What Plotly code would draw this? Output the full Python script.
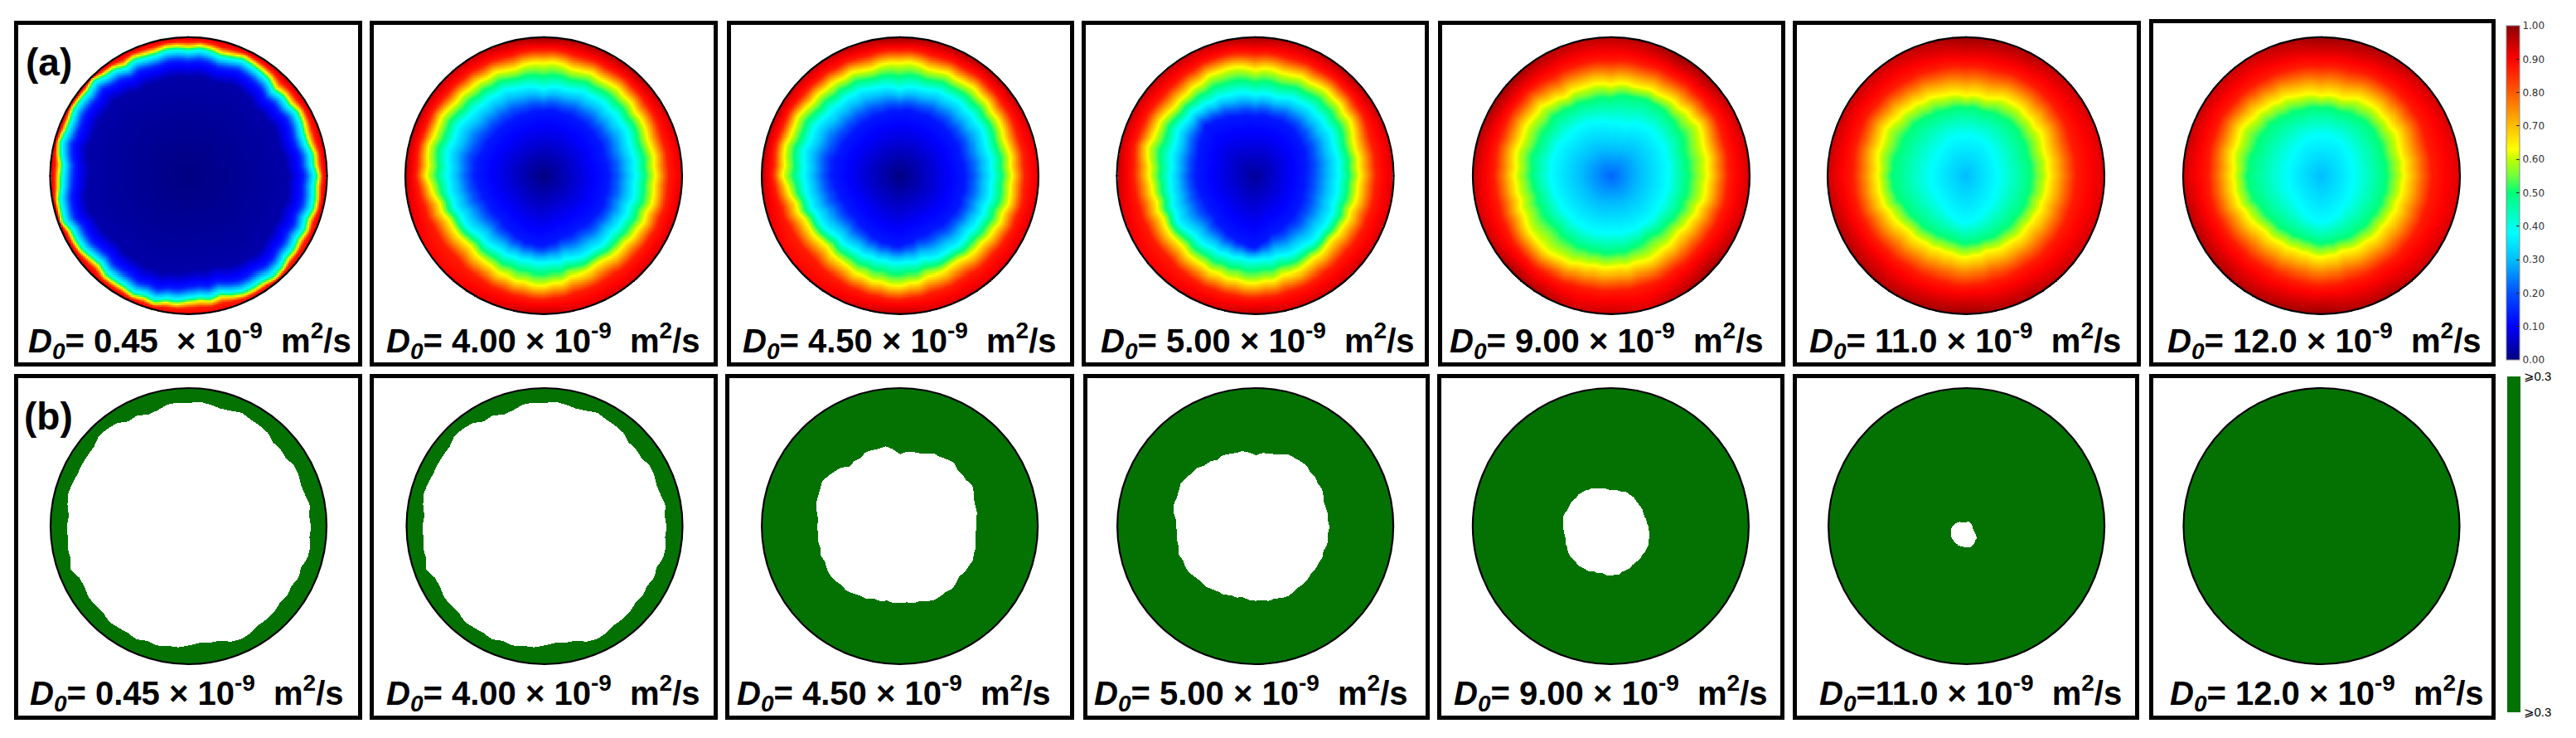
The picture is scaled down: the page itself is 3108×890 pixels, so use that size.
import numpy as np
import plotly.graph_objects as go

W, H = 3108, 890

# ---------- text ----------
LABELS_A = ["0.45\u00a0\u00a0×", "4.00 ×", "4.50 ×", "5.00 ×", "9.00 ×", "11.0 ×", "12.0 ×"]
LABELS_B = [" 0.45 ×", " 4.00 ×", " 4.50 ×", " 5.00 ×", " 9.00 ×", "11.0 ×", " 12.0 ×"]
TICK_VALUES = [0.0, 0.1, 0.2, 0.3, 0.4, 0.5, 0.6, 0.7, 0.8, 0.9, 1.0]
GREEN_TICKS = ["⩾0.3", "⩾0.3"]

# ---------- read-off contour radii, fraction of disc radius, every 15 deg from east, counter-clockwise ----------
A1_NAVY = [.715,.69,.695,.68,.72,.70,.715,.71,.71,.755,.745,.75,.71,.76,.73,.71,.72,.725,.686,.687,.73,.735,.71,.72]
A1_BLUE = [.825,.80,.805,.79,.83,.81,.825,.82,.82,.865,.855,.86,.82,.87,.84,.82,.83,.835,.796,.797,.84,.845,.82,.83]
A1_CYAN = [.905,.88,.885,.87,.91,.89,.905,.90,.90,.945,.935,.94,.90,.95,.92,.90,.91,.915,.876,.877,.92,.925,.90,.91]
A1_YELL = [.94,.915,.92,.905,.945,.925,.94,.935,.935,.975,.965,.97,.935,.98,.955,.935,.945,.95,.911,.912,.955,.96,.935,.945]
A1_RIM = [.92,.92,.94,.96,.95,.93,.92,.92,.92,.92,.92,.92,.92,.92,.93,.93,.92,.90,.90,.90,.88,.88,.90,.92]

A2_BLUE = [.47,.46,.47,.47,.47,.47,.47,.46,.46,.46,.47,.49,.49,.47,.45,.45,.47,.50,.51,.47,.46,.47,.48,.47]
A2_CYAN = [.66,.66,.67,.68,.67,.65,.63,.66,.68,.68,.70,.71,.69,.68,.66,.64,.63,.63,.63,.63,.65,.65,.65,.66]
A2_YELL = [.80,.80,.80,.82,.81,.80,.82,.80,.82,.82,.84,.85,.84,.78,.75,.74,.76,.78,.79,.76,.75,.76,.78,.80]
A2_RIM = [.92,.93,.95,.97,.97,.97,.99,.97,.95,.95,.96,.96,.96,.93,.90,.90,.92,.94,.96,.93,.93,.93,.93,.93]

A4_BLUE = [.36,.38,.40,.42,.43,.43,.43,.44,.47,.50,.46,.43,.43,.42,.41,.42,.45,.49,.52,.44,.42,.40,.38,.36]
A4_CYAN = [.60,.61,.62,.63,.62,.59,.59,.61,.62,.64,.64,.62,.61,.62,.65,.62,.61,.61,.61,.61,.62,.625,.62,.60]
A4_YELL = [.75,.75,.78,.80,.78,.77,.77,.80,.78,.76,.78,.80,.76,.74,.74,.74,.75,.76,.77,.75,.74,.72,.73,.74]
A4_RIM = [.93,.93,.95,.97,.96,.96,.98,.96,.95,.95,.95,.95,.95,.93,.91,.91,.93,.94,.96,.94,.94,.94,.93,.93]

A5_CYAN = [.41,.42,.43,.44,.42,.38,.38,.40,.42,.42,.44,.44,.44,.43,.42,.42,.42,.42,.41,.42,.42,.42,.41,.41]
A5_GREEN = [.55,.55,.58,.60,.60,.59,.56,.56,.57,.59,.57,.58,.57,.55,.56,.55,.56,.56,.56,.55,.52,.53,.55,.55]
A5_YELL = [.69,.70,.72,.70,.68,.67,.66,.67,.66,.70,.70,.70,.69,.68,.70,.72,.70,.67,.66,.66,.66,.64,.65,.68]
A5_RIM = [.94,.94,.95,.985,.99,.97,.96,.96,.97,.99,.985,.96,.95,.94,.95,.98,.97,.94,.95,.93,.96,.985,.96,.94]

A6_CYAN = [.23,.23,.24,.26,.28,.29,.29,.29,.28,.26,.25,.25,.25,.25,.25,.26,.28,.32,.34,.32,.28,.26,.24,.23]
A6_GREEN = [.47,.47,.48,.50,.49,.48,.49,.49,.50,.52,.52,.52,.53,.52,.49,.48,.47,.47,.49,.48,.48,.47,.47,.47]
A6_YELL = [.59,.59,.61,.62,.62,.58,.58,.60,.62,.64,.66,.65,.63,.63,.60,.58,.57,.57,.59,.57,.58,.58,.58,.58]
A6_RIM = [.93,.93,.94,.95,.97,.98,.99,.97,.95,.95,.95,.95,.94,.96,.97,.97,.97,.98,.99,.97,.97,.95,.94,.93]

# small ragged steps seen along every contour, relative to its radius, every 5 deg
RAGGED = [.008,-.006,.010,-.004,-.010,.006,.012,-.008,.004,-.012,.008,.002,-.006,.012,-.004,-.010,.006,.010,
          -.012,.004,.008,-.006,-.002,.012,-.010,.006,-.004,.010,-.008,.002,.012,-.006,-.010,.008,.004,-.012,
          .010,-.002,.006,-.008,.012,-.010,.004,.008,-.006,-.012,.010,.002,-.004,.012,-.008,.006,-.010,.008,
          .004,-.006,.012,-.012,.002,.010,-.004,-.008,.012,.006,-.010,.004,-.002,.010,-.012,.008,.006,-.006]

# field levels reached on those contours, and value at disc centre
PANELS_A = [
    (0.00, [0.03, 0.13, 0.38, 0.63], [A1_NAVY, A1_BLUE, A1_CYAN, A1_YELL], A1_RIM),
    (0.00, [0.13, 0.38, 0.63], [A2_BLUE, A2_CYAN, A2_YELL], A2_RIM),
    (0.00, [0.13, 0.38, 0.63], [A2_BLUE, A2_CYAN, A2_YELL], A2_RIM),
    (0.02, [0.13, 0.38, 0.63], [A4_BLUE, A4_CYAN, A4_YELL], A4_RIM),
    (0.22, [0.38, 0.50, 0.63], [A5_CYAN, A5_GREEN, A5_YELL], A5_RIM),
    (0.30, [0.38, 0.50, 0.63], [A6_CYAN, A6_GREEN, A6_YELL], A6_RIM),
    (0.30, [0.38, 0.50, 0.63], [A6_CYAN, A6_GREEN, A6_YELL], A6_RIM),
]

# ---------- read-off radius of the white region (value < 0.3), every 10 deg ----------
HOLE_B1 = [.877,.88,.873,.87,.863,.88,.90,.895,.89,.905,.89,.864,.888,.926,.905,.885,.91,.89,.877,.888,.90,.87,.892,.89,.892,.888,.885,.857,.845,.885,.895,.865,.869,.86,.874,.886]
HOLE_B2 = [.877,.88,.873,.87,.863,.88,.90,.895,.89,.905,.89,.864,.888,.926,.905,.885,.91,.89,.877,.888,.90,.87,.892,.89,.892,.888,.885,.857,.845,.885,.895,.865,.869,.86,.874,.886]
HOLE_B3 = [.55,.56,.575,.595,.585,.60,.585,.565,.545,.53,.585,.59,.58,.57,.625,.645,.64,.61,.595,.60,.605,.61,.615,.60,.58,.56,.55,.553,.555,.575,.585,.58,.565,.575,.575,.552]
HOLE_B4 = [.53,.525,.53,.545,.56,.57,.575,.558,.535,.522,.55,.56,.563,.58,.607,.62,.615,.603,.57,.575,.587,.585,.575,.56,.545,.532,.525,.536,.54,.55,.55,.535,.53,.527,.528,.53]
HOLE_B5 = [.275,.262,.258,.26,.262,.268,.272,.27,.265,.265,.278,.295,.312,.322,.326,.33,.34,.348,.342,.335,.343,.355,.362,.362,.36,.35,.345,.355,.35,.335,.322,.315,.31,.308,.298,.285]
HOLE_B6 = [.04,.04,.038,.037,.037,.037,.037,.037,.036,.03,.03,.032,.035,.04,.05,.065,.077,.09,.105,.115,.122,.13,.14,.142,.145,.15,.15,.15,.15,.14,.12,.11,.08,.055,.045,.042]
HOLE_B7 = [0.0] * 36
HOLES = [HOLE_B1, HOLE_B2, HOLE_B3, HOLE_B4, HOLE_B5, HOLE_B6, HOLE_B7]

# ---------- page geometry (pixels) ----------
FRAME_X_A = [(17.5, 436), (446.5, 865), (877, 1295), (1305.5, 1723), (1735, 2153), (2163, 2582), (2593, 3010)]
FRAME_Y_A = [(25, 441)] * 6 + [(23, 441)]
CENTER_X_A = [227.5, 656, 1086, 1514.5, 1944, 2372, 2801]
CENTER_Y_A, RADIUS_A = 211.8, 167
FRAME_X_B = [(17.5, 436), (446.5, 865), (875, 1295), (1307, 1724), (1734, 2152), (2163, 2580), (2593, 3010)]
FRAME_Y_B = [(451, 867)] * 7
CENTER_X_B = [227.5, 657, 1085.6, 1514.6, 1943.4, 2372.6, 2801]
CENTER_Y_B, RADIUS_B = 634.5, 166.5
LABEL_X_A = [32, 464, 894, 1326, 1747, 2181, 2613]
LABEL_X_B = [34, 464, 887, 1318, 1752, 2193, 2616]
LABEL_Y_A, LABEL_Y_B = 411, 836
LINE = 4.5

JET = [[0, "rgb(0,0,130)"], [.1, "rgb(0,0,255)"], [.2, "rgb(0,80,255)"], [.3, "rgb(0,190,255)"],
       [.38, "rgb(0,255,255)"], [.5, "rgb(0,255,120)"], [.55, "rgb(110,255,60)"], [.6, "rgb(190,255,0)"],
       [.63, "rgb(255,255,0)"], [.7, "rgb(255,190,0)"], [.8, "rgb(255,90,0)"], [.9, "rgb(255,0,0)"],
       [1, "rgb(140,0,0)"]]
GREEN = "#037203"


def on_angle(th, values):
    vals = list(values) + [values[0]]
    return np.interp(th, np.linspace(0, 360, len(vals)), vals)


def polar_grid(n):
    c = np.linspace(-1, 1, n)
    xx, yy = np.meshgrid(c, c)
    return c, np.hypot(xx, yy), np.degrees(np.arctan2(yy, xx)) % 360


def concentration(center, levels, contours, rim, n=167):
    c, r, th = polar_grid(n)
    rag = 1 + 0.9 * on_angle(th, RAGGED)
    radii = [np.zeros_like(r)] + [np.minimum(on_angle(th, a) * rag, 0.985) for a in contours]
    vals = [np.full_like(r, center)] + [np.full_like(r, v) for v in levels]
    radii.append(radii[-1] + 0.5 * (1 - radii[-1]))
    vals.append(np.full_like(r, 0.87))
    radii.append(np.full_like(r, 1.0))
    vals.append(on_angle(th, rim))
    z = np.full_like(r, np.nan, dtype=float)
    for i in range(len(radii) - 1):
        m = (r >= radii[i]) & (r <= radii[i + 1])
        d = np.maximum(radii[i + 1] - radii[i], 1e-6)
        z[m] = (vals[i] + (r - radii[i]) / d * (vals[i + 1] - vals[i]))[m]
    z[r > 1] = np.nan
    return c, z.astype("float32")


def region(hole, n=334):
    c, r, th = polar_grid(n)
    z = np.ones_like(r, dtype="float32")
    z[r < on_angle(th, hole) * (1 + on_angle(th, RAGGED))] = np.nan
    z[r > 1] = np.nan
    return c, z


fig = go.Figure()
layout = dict(width=W, height=H, margin=dict(l=0, r=0, t=0, b=0), paper_bgcolor="white",
              plot_bgcolor="white", showlegend=False, annotations=[], shapes=[])


def add_axes(idx, fx, fy, cx, cy, R):
    name = "" if idx == 1 else str(idx)
    x0, x1 = fx[0] + LINE, fx[1] - LINE
    y0, y1 = fy[0] + LINE, fy[1] - LINE
    common = dict(showgrid=False, zeroline=False, showticklabels=False, ticks="", showline=True,
                  mirror=True, linecolor="black", linewidth=LINE)
    layout["xaxis" + name] = dict(domain=[x0 / W, x1 / W], range=[(x0 - cx) / R, (x1 - cx) / R],
                                  anchor="y" + name, **common)
    layout["yaxis" + name] = dict(domain=[1 - y1 / H, 1 - y0 / H], range=[(cy - y1) / R, (cy - y0) / R],
                                  anchor="x" + name, **common)
    layout["shapes"].append(dict(type="circle", xref="x" + name, yref="y" + name, x0=-1, x1=1, y0=-1, y1=1,
                                 line=dict(color="black", width=2.2), layer="above"))
    return "x" + name, "y" + name


def label(txt, x, y):
    layout["annotations"].append(dict(
        text=f"<b><i>D</i><sub><i>0</i></sub>={txt} 10<sup>-9</sup>\u00a0\u00a0m<sup>2</sup>/s</b>",
        xref="paper", yref="paper", x=x / W, y=1 - y / H, xanchor="left", yanchor="middle", showarrow=False,
        font=dict(family="Liberation Sans", size=40, color="black")))


for i in range(7):
    xa, ya = add_axes(i + 1, FRAME_X_A[i], FRAME_Y_A[i], CENTER_X_A[i], CENTER_Y_A, RADIUS_A)
    center, levels, contours, rim = PANELS_A[i]
    c, z = concentration(center, levels, contours, rim)
    fig.add_trace(go.Heatmap(
        x=c, y=c, z=z, xaxis=xa, yaxis=ya, zmin=0, zmax=1, colorscale=JET, hoverinfo="skip",
        showscale=i == 0,
        colorbar=dict(x=3024 / W, xanchor="left", xpad=0, y=1 - 434 / H, yanchor="bottom", yref="paper", ypad=0,
                      lenmode="pixels", len=403, thickness=16, outlinecolor="#888888", outlinewidth=1,
                      tickvals=TICK_VALUES, tickformat=".2f", ticks="inside", ticklen=4, tickcolor="#222222",
                      tickfont=dict(family="DejaVu Sans", size=12, color="#333333")),
    ))
    label(" " + LABELS_A[i], LABEL_X_A[i], LABEL_Y_A)

for i in range(7):
    xa, ya = add_axes(i + 8, FRAME_X_B[i], FRAME_Y_B[i], CENTER_X_B[i], CENTER_Y_B, RADIUS_B)
    c, z = region(HOLES[i])
    fig.add_trace(go.Heatmap(
        x=c, y=c, z=z, xaxis=xa, yaxis=ya, zmin=0, zmax=1, colorscale=[[0, GREEN], [1, GREEN]], hoverinfo="skip",
        showscale=i == 0,
        colorbar=dict(x=3025 / W, xanchor="left", xpad=0, y=1 - 859 / H, yanchor="bottom", yref="paper", ypad=0,
                      lenmode="pixels", len=405, thickness=16, outlinewidth=0,
                      tickvals=[0, 1], ticktext=GREEN_TICKS, ticks="",
                      tickfont=dict(family="Liberation Sans", size=15, color="black")),
    ))
    label(LABELS_B[i], LABEL_X_B[i], LABEL_Y_B)

for txt, x, y in [("(a)", 29, 75), ("(b)", 27, 502)]:
    layout["annotations"].append(dict(text=f"<b>{txt}</b>", xref="paper", yref="paper", x=x / W, y=1 - y / H,
                                      xanchor="left", yanchor="middle", showarrow=False,
                                      font=dict(family="Liberation Sans", size=46, color="black")))

fig.update_layout(**layout)
fig.write_html("out.html", config={"displayModeBar": False}, post_script="document.body.style.margin='0';")
